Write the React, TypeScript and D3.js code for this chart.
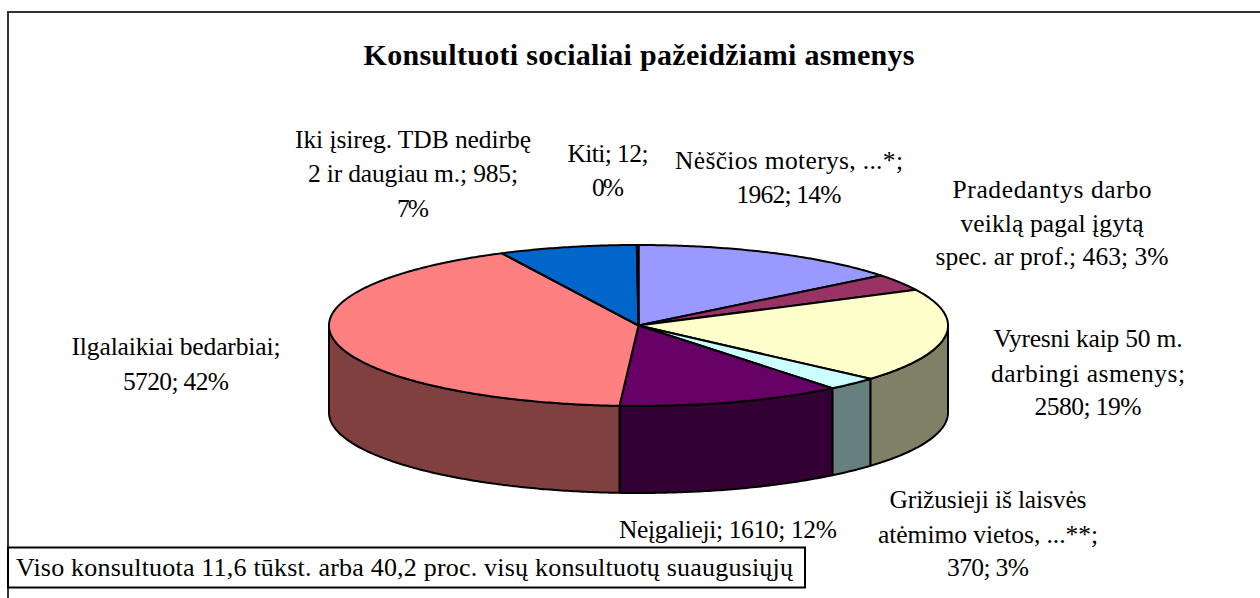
import * as d3 from 'd3';

const WIDTH = 1260;
const HEIGHT = 598;
const FONT = '"Liberation Serif", "Times New Roman", serif';

const categories = [
  'Nėščios moterys, ...*',
  'Pradedantys darbo veiklą pagal įgytą spec. ar prof.',
  'Vyresni kaip 50 m. darbingi asmenys',
  'Grižusieji iš laisvės atėmimo vietos, ...**',
  'Neįgalieji',
  'Ilgalaikiai bedarbiai',
  'Iki įsireg. TDB nedirbę 2 ir daugiau m.',
  'Kiti',
];
const values = [1962, 463, 2580, 370, 1610, 5720, 985, 12];
const topColors = ['#9999ff', '#993366', '#ffffcc', '#ccffff', '#660066', '#ff8080', '#0066cc', '#ccccff'];
const sideColors = ['#4d4d80', '#4d1a33', '#808066', '#668080', '#330033', '#804040', '#003366', '#666680'];

const labelLines = [
  ['Nėščios moterys, ...*;', '1962; 14%'],
  ['Pradedantys darbo', 'veiklą pagal įgytą', 'spec. ar prof.; 463; 3%'],
  ['Vyresni kaip 50 m.', 'darbingi asmenys;', '2580; 19%'],
  ['Grižusieji iš laisvės', 'atėmimo vietos, ...**;', '370; 3%'],
  ['Neįgalieji; 1610; 12%'],
  ['Ilgalaikiai bedarbiai;', '5720; 42%'],
  ['Iki įsireg. TDB nedirbę', '2 ir daugiau m.; 985;', '7%'],
  ['Kiti; 12;', '0%'],
];
// layout of the labels: centre x, baseline of each line, width of each line
const labelX = [789, 1052, 1088, 988, 728, 176, 413, 608];
const labelBaselines = [
  [169, 203],
  [198, 232, 265],
  [347, 382, 415],
  [508, 543, 576],
  [538],
  [355, 390],
  [148, 182, 217],
  [162, 196],
];
const labelWidths = [
  [228, 105],
  [199, 183, 233],
  [189, 194, 107],
  [197, 220, 82],
  [218],
  [209, 106],
  [236, 210, 32],
  [81, 32],
];

const cx = 638.5;
const cy = 325.5;
const rx = 309.5;
const ry = 80.5;
const depth = 87;

const ellipseX = d3.scaleLinear().domain([-1, 1]).range([cx - rx, cx + rx]);
const ellipseY = d3.scaleLinear().domain([-1, 1]).range([cy - ry, cy + ry]);

const rimPoints = (a0: number, a1: number) => {
  const n = Math.max(2, Math.ceil((a1 - a0) / 0.01));
  return d3.range(n + 1).map((i) => a0 + ((a1 - a0) * i) / n);
};
const pt = (a: number, dy = 0): [number, number] => [ellipseX(Math.sin(a)), ellipseY(-Math.cos(a)) + dy];
const line = d3.line();

export default function App() {
  const arcs = d3.pie<number>().sort(null)(values);

  const walls = arcs
    .map((d) => {
      // only the front half of the cylinder is visible
      const a0 = Math.max(d.startAngle, Math.PI / 2);
      const a1 = Math.min(d.endAngle, (3 * Math.PI) / 2);
      if (a1 <= a0) return null;
      const front = rimPoints(a0, a1);
      const pts = [...front.map((a) => pt(a)), ...front.slice().reverse().map((a) => pt(a, depth))];
      return { i: d.index, path: line(pts) + 'Z' };
    })
    .filter(Boolean) as { i: number; path: string }[];

  return (
    <svg
      width={WIDTH}
      height={HEIGHT}
      style={{ position: 'absolute', left: 0, top: 0, display: 'block', background: '#fff' }}
      fontFamily={FONT}
    >
      <path d={`M8,${HEIGHT}V12H${WIDTH}`} fill="none" stroke="#333" strokeWidth={2} />
      <text
        x={639}
        y={65}
        textAnchor="middle"
        fontSize={30}
        fontWeight="bold"
        fill="#000"
        textLength={551}
        lengthAdjust="spacing"
      >
        Konsultuoti socialiai pažeidžiami asmenys
      </text>

      {walls.map((w) => (
        <path key={w.i} d={w.path} fill={sideColors[w.i]} stroke="#000" strokeWidth={2} strokeLinejoin="round" />
      ))}
      {arcs.map((d) => {
        const pts = [[cx, cy] as [number, number], ...rimPoints(d.startAngle, d.endAngle).map((a) => pt(a))];
        return (
          <path
            key={categories[d.index]}
            d={line(pts) + 'Z'}
            fill={topColors[d.index]}
            stroke="#000"
            strokeWidth={2}
            strokeLinejoin="round"
          />
        );
      })}

      {labelLines.map((lines, i) =>
        lines.map((t, j) => (
          <text
            key={`${i}-${j}`}
            x={labelX[i]}
            y={labelBaselines[i][j]}
            textAnchor="middle"
            fontSize={25.5}
            fill="#000"
            textLength={labelWidths[i][j]}
            lengthAdjust="spacing"
          >
            {t}
          </text>
        )),
      )}

      <rect x={8} y={547.5} width={797} height={40} fill="#fff" stroke="#000" strokeWidth={2} />
      <text x={16} y={576} fontSize={26} fill="#000" textLength={777} lengthAdjust="spacing">
        Viso konsultuota 11,6 tūkst. arba 40,2 proc. visų konsultuotų suaugusiųjų
      </text>
    </svg>
  );
}
